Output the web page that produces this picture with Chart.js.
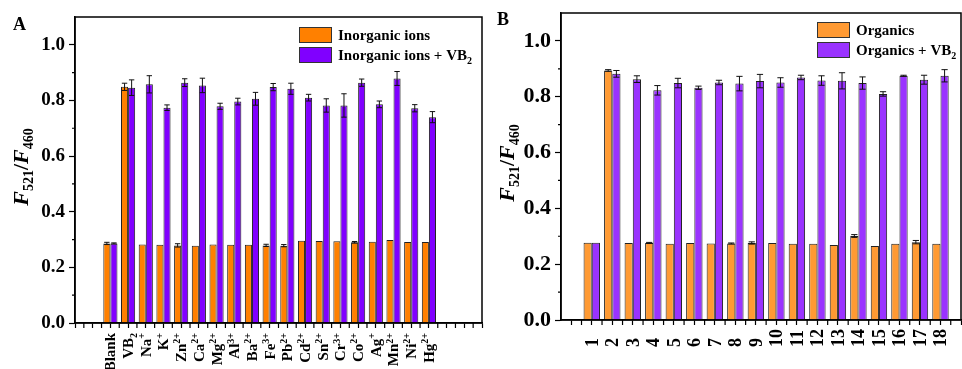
<!DOCTYPE html>
<html>
<head>
<meta charset="utf-8">
<script src="https://cdn.jsdelivr.net/npm/chart.js@4.4.0/dist/chart.umd.min.js"></script>
<style>
  html, body { margin: 0; padding: 0; background: #fff; }
  #wrap { position: relative; width: 962px; height: 369px; overflow: hidden; }
  canvas { position: absolute; top: 0; }
  #chartA { left: 0; }
  #chartB { left: 486px; }
</style>
</head>
<body>
<div id="wrap">
  <canvas id="chartA" width="486" height="369"></canvas>
  <canvas id="chartB" width="476" height="369"></canvas>
</div>
<script>
// Panel A - inorganic ions ( "_" = subscript, "^" = superscript )
const ionLabels = ['Blank', 'VB_2', 'Na^+', 'K^+', 'Zn^2+', 'Ca^2+', 'Mg^2+', 'Al^3+', 'Ba^2+', 'Fe^3+',
    'Pb^2+', 'Cd^2+', 'Sn^2+', 'Cr^3+', 'Co^2+', 'Ag^+', 'Mn^2+', 'Ni^2+', 'Hg^2+'];
const ionValues = [0.286, 0.849, 0.282, 0.281, 0.279, 0.278, 0.282, 0.281, 0.281, 0.279,
    0.278, 0.296, 0.295, 0.294, 0.290, 0.292, 0.298, 0.291, 0.291];
const ionErrors = [0.004, 0.013, 0, 0, 0.006, 0, 0, 0, 0, 0.004,
    0.004, 0, 0, 0, 0.003, 0, 0, 0, 0];
const ionVbValues = [0.286, 0.846, 0.858, 0.774, 0.864, 0.854, 0.779, 0.796, 0.806, 0.848,
    0.842, 0.810, 0.782, 0.782, 0.864, 0.786, 0.879, 0.772, 0.740];
const ionVbErrors = [0.002, 0.028, 0.031, 0.010, 0.014, 0.026, 0.011, 0.012, 0.023, 0.013,
    0.020, 0.012, 0.024, 0.042, 0.013, 0.012, 0.025, 0.013, 0.020];

// Panel B - organics
const orgLabels = ['1', '2', '3', '4', '5', '6', '7', '8', '9', '10', '11', '12', '13', '14', '15', '16', '17', '18'];
const orgValues = [0.277, 0.894, 0.276, 0.276, 0.273, 0.276, 0.274, 0.274, 0.276, 0.276,
    0.273, 0.273, 0.269, 0.301, 0.265, 0.273, 0.279, 0.273];
const orgErrors = [0, 0.003, 0, 0.002, 0, 0, 0, 0.002, 0.004, 0,
    0, 0, 0, 0.005, 0, 0, 0.006, 0];
const orgVbValues = [0.277, 0.882, 0.863, 0.823, 0.849, 0.832, 0.851, 0.847, 0.856, 0.851,
    0.869, 0.858, 0.857, 0.849, 0.810, 0.875, 0.861, 0.875];
const orgVbErrors = [0, 0.012, 0.012, 0.017, 0.017, 0.006, 0.008, 0.026, 0.024, 0.017,
    0.008, 0.017, 0.029, 0.022, 0.008, 0.002, 0.016, 0.022];

const yMajor = [0, 0.2, 0.4, 0.6, 0.8, 1.0];
const yMinor = [0.1, 0.3, 0.5, 0.7, 0.9];

const SERIF = '"Liberation Serif", "Times New Roman", serif';
const font = (size, italic) => (italic ? 'italic ' : '') + 'bold ' + size + 'px ' + SERIF;

// split "Zn^2+" into normal / raised / lowered parts
function parts(label) {
    const m = label.match(/^(.*?)([_^])(.*)$/);
    if (!m) return [{ t: label, k: 0 }];
    return [{ t: m[1], k: 0 }, { t: m[3], k: m[2] === '^' ? -1 : 1 }];
}

function richWidth(ctx, ps, size) {
    let w = 0;
    ps.forEach(p => {
        ctx.font = font(p.k ? Math.round(size * 0.65) : size);
        w += ctx.measureText(p.t).width;
    });
    return w;
}

function drawRich(ctx, ps, x, y, size) {
    ps.forEach(p => {
        const s = p.k ? Math.round(size * 0.65) : size;
        ctx.font = font(s);
        const dy = p.k < 0 ? -size * 0.38 : (p.k > 0 ? size * 0.28 : 0);
        ctx.fillText(p.t, x, y + dy);
        x += ctx.measureText(p.t).width;
    });
}

const decor = {
    id: 'decor',
    afterDatasetsDraw(chart) {
        const ctx = chart.ctx;
        const ys = chart.scales.y;
        ctx.save();
        ctx.strokeStyle = '#111';
        ctx.lineWidth = 1;
        chart.data.datasets.forEach((ds, di) => {
            chart.getDatasetMeta(di).data.forEach((bar, i) => {
                const e = ds.errors[i];
                if (!e) return;
                const v = ds.data[i].y;
                const y1 = ys.getPixelForValue(v + e);
                const y2 = ys.getPixelForValue(v - e);
                const h = bar.width * 0.38;
                ctx.beginPath();
                ctx.moveTo(bar.x, y1); ctx.lineTo(bar.x, y2);
                ctx.moveTo(bar.x - h, y1); ctx.lineTo(bar.x + h, y1);
                ctx.moveTo(bar.x - h, y2); ctx.lineTo(bar.x + h, y2);
                ctx.stroke();
            });
        });
        ctx.restore();
    },
    afterDraw(chart, args, opts) {
        const ctx = chart.ctx;
        const area = chart.chartArea;
        const xs = chart.scales.x, ys = chart.scales.y;
        ctx.save();
        ctx.fillStyle = '#000';
        ctx.strokeStyle = '#000';

        // box round the plot
        ctx.lineWidth = 1.5;
        ctx.strokeRect(area.left, area.top, area.right - area.left, area.bottom - area.top);

        // minor ticks: y at odd tenths, x half-way between categories
        ctx.lineWidth = 1.2;
        ctx.beginPath();
        yMinor.forEach(v => {
            const y = ys.getPixelForValue(v);
            ctx.moveTo(area.left - 3, y); ctx.lineTo(area.left, y);
        });
        for (let v = xs.min; v <= xs.max + 1e-9; v += 1) {
            const x = xs.getPixelForValue(Math.floor(v) + 0.5);
            if (x > area.left + 1 && x < area.right - 1) {
                ctx.moveTo(x, area.bottom); ctx.lineTo(x, area.bottom + 5);
            }
        }
        ctx.stroke();

        // x tick labels, rotated
        const xl = opts.xlabels;
        const pts = chart.data.datasets[0].data;
        ctx.fillStyle = '#000';
        xl.labels.forEach((lab, i) => {
            const ps = parts(lab);
            const px = xs.getPixelForValue(pts[i].x);
            const w = richWidth(ctx, ps, xl.size);
            ctx.save();
            ctx.translate(px, area.bottom + xl.offset);
            ctx.rotate(-Math.PI / 2);
            ctx.textAlign = 'left';
            ctx.textBaseline = 'alphabetic';
            drawRich(ctx, ps, xl.align === 'right' ? -w : 0, xl.size * 0.33, xl.size);
            ctx.restore();
        });

        // legend inside the plot
        const lg = opts.legend;
        chart.data.datasets.forEach((ds, k) => {
            const bx = area.right - lg.dx;
            const by = area.top + lg.dy + k * 20;
            ctx.fillStyle = ds.backgroundColor;
            ctx.fillRect(bx, by, 33, 16);
            ctx.lineWidth = 1;
            ctx.strokeStyle = '#333';
            ctx.strokeRect(bx + 0.5, by + 0.5, 32, 15);
            ctx.fillStyle = '#000';
            ctx.textAlign = 'left';
            ctx.textBaseline = 'alphabetic';
            drawRich(ctx, parts(ds.label), bx + 39, by + 8 + lg.size * 0.33, lg.size);
        });

        // y title  F521/F460
        const tt = opts.ytitle;
        const seq = [['F', 22, true, 0], ['521', 14, false, 5], ['/', 22, false, 0], ['F', 22, true, 0], ['460', 14, false, 5]];
        let tw = 0;
        seq.forEach(s => { ctx.font = font(s[1], s[2]); tw += ctx.measureText(s[0]).width; });
        ctx.save();
        ctx.translate(tt.x, tt.y);
        ctx.rotate(-Math.PI / 2);
        let tx = -tw / 2;
        seq.forEach(s => {
            ctx.font = font(s[1], s[2]);
            ctx.fillText(s[0], tx, s[3]);
            tx += ctx.measureText(s[0]).width;
        });
        ctx.restore();

        // panel letter
        ctx.font = font(18);
        ctx.fillText(opts.letter.t, opts.letter.x, opts.letter.y);
        ctx.restore();
    }
};

function series(values, start) {
    return values.map((v, i) => ({ x: i + start, y: v }));
}

function panelOptions(p) {
    return {
        responsive: false,
        animation: false,
        layout: { padding: { left: 0, top: p.top, right: p.right, bottom: 0 } },
        datasets: {
            bar: { categoryPercentage: 0.8, barPercentage: 1.0, borderWidth: 1, borderColor: '#222' }
        },
        scales: {
            x: {
                type: 'linear',
                min: p.xMin,
                max: p.xMax,
                offset: false,
                ticks: { display: false, stepSize: 1, includeBounds: false, autoSkip: false, maxTicksLimit: 200 },
                grid: { offset: false, drawOnChartArea: false, drawTicks: true, tickLength: 5, tickWidth: 1.2, tickColor: '#000' },
                border: { color: '#000', width: 1.5 },
                afterFit: s => { s.height = p.xHeight; s.paddingLeft = 0; s.paddingRight = 0; }
            },
            y: {
                min: 0,
                max: 1.1,
                ticks: {
                    stepSize: 0.2,
                    includeBounds: false,
                    color: '#000',
                    padding: 4,
                    font: { family: SERIF, weight: 'bold', size: p.yFont },
                    callback: v => v.toFixed(1)
                },
                grid: { drawOnChartArea: false, drawTicks: true, tickLength: 6, tickWidth: 1.2, tickColor: '#000' },
                border: { color: '#000', width: 1.5 },
                afterFit: s => { s.width = p.yWidth; s.paddingTop = 0; s.paddingBottom = 0; }
            }
        },
        plugins: {
            legend: { display: false },
            tooltip: { enabled: false },
            decor: p.decor
        }
    };
}

new Chart(document.getElementById('chartA'), {
    type: 'bar',
    data: {
        datasets: [{
            label: 'Inorganic ions',
            data: series(ionValues, 0),
            errors: ionErrors,
            backgroundColor: '#ff8000'
        }, {
            label: 'Inorganic ions + VB_2',
            data: series(ionVbValues, 0),
            errors: ionVbErrors,
            backgroundColor: '#8000ff'
        }]
    },
    options: panelOptions({
        top: 17, right: 4, xMin: -2, xMax: 21, xHeight: 46, yWidth: 75, yFont: 19,
        decor: {
            xlabels: { labels: ionLabels, align: 'right', offset: 10, size: 15 },
            legend: { dx: 183, dy: 10, size: 15 },
            ytitle: { x: 28, y: 167 },
            letter: { t: 'A', x: 13, y: 30 }
        }
    }),
    plugins: [decor]
});

new Chart(document.getElementById('chartB'), {
    type: 'bar',
    data: {
        datasets: [{
            label: 'Organics',
            data: series(orgValues, 1),
            errors: orgErrors,
            backgroundColor: '#ff9a33'
        }, {
            label: 'Organics + VB_2',
            data: series(orgVbValues, 1),
            errors: orgVbErrors,
            backgroundColor: '#9a33ff'
        }]
    },
    options: panelOptions({
        top: 13, right: 1, xMin: -0.5, xMax: 19, xHeight: 49, yWidth: 75, yFont: 22,
        decor: {
            xlabels: { labels: orgLabels, align: 'left', offset: 27, size: 18 },
            legend: { dx: 144, dy: 9, size: 15 },
            ytitle: { x: 28, y: 163 },
            letter: { t: 'B', x: 11, y: 25 }
        }
    }),
    plugins: [decor]
});
</script>
</body>
</html>
